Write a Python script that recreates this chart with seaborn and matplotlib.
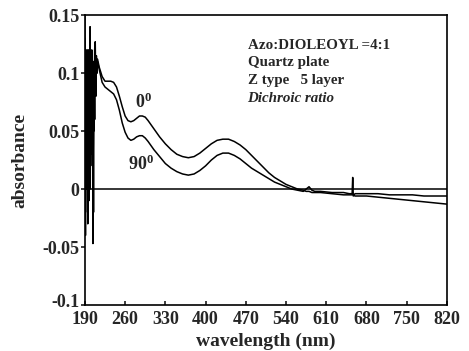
import pandas as pd
import matplotlib
matplotlib.use("Agg")
import matplotlib.pyplot as plt
import matplotlib.transforms as mtransforms
import seaborn as sns

# ------------------------------------------------------------
# data (absorbance vs wavelength)
# ------------------------------------------------------------
wl_noise = [190, 191, 192, 193, 194, 195, 196, 197, 198, 199, 200,
            201, 202, 203, 204, 205, 206, 207, 208, 209, 210, 211, 212]
wl_main = [215, 220, 225, 230, 235, 240, 245, 250, 255, 260, 265, 270,
           275, 280, 285, 290, 295, 300, 310, 320, 330, 340, 350, 360,
           370, 380, 390, 400, 410, 420, 430, 440, 450, 460, 470, 480,
           490, 500, 510, 520, 530, 540, 550, 560, 570, 575, 580, 585,
           590, 600, 620, 640, 650, 655, 656, 657, 660, 680, 700, 720,
           740, 760, 780, 800, 820]

abs_0_noise = [0.15, -0.04, 0.12, 0.00, 0.11, 0.01, 0.12, -0.01, 0.10,
               0.14, 0.02, 0.11, 0.03, 0.10, -0.047, 0.11, 0.05, 0.12,
               0.127, 0.09, 0.115, 0.10, 0.112]
abs_0_main = [0.105, 0.097, 0.093, 0.093, 0.093, 0.092, 0.088, 0.080,
              0.071, 0.063, 0.059, 0.058, 0.059, 0.061, 0.063, 0.063,
              0.062, 0.059, 0.052, 0.045, 0.039, 0.034, 0.030, 0.028,
              0.027, 0.028, 0.031, 0.035, 0.039, 0.042, 0.043, 0.043,
              0.041, 0.038, 0.034, 0.029, 0.024, 0.019, 0.014, 0.010,
              0.007, 0.004, 0.002, 0.000, -0.001, -0.002, -0.002, -0.003,
              -0.003, -0.003, -0.004, -0.005, -0.005, -0.005, -0.005,
              -0.005, -0.006, -0.006, -0.007, -0.008, -0.009, -0.010,
              -0.011, -0.012, -0.013]

abs_90_noise = [0.13, -0.02, 0.10, 0.02, 0.12, -0.03, 0.09, 0.03, 0.11,
                0.00, 0.10, 0.04, 0.12, 0.05, 0.09, -0.02, 0.10, 0.06,
                0.11, 0.08, 0.105, 0.10, 0.11]
abs_90_main = [0.103, 0.092, 0.088, 0.086, 0.084, 0.082, 0.077, 0.068,
               0.057, 0.049, 0.044, 0.042, 0.043, 0.045, 0.046, 0.046,
               0.044, 0.041, 0.034, 0.028, 0.022, 0.018, 0.015, 0.013,
               0.012, 0.013, 0.016, 0.020, 0.025, 0.029, 0.031, 0.031,
               0.029, 0.026, 0.022, 0.018, 0.015, 0.012, 0.009, 0.006,
               0.004, 0.002, 0.000, -0.001, -0.002, 0.000, 0.002, -0.001,
               -0.002, -0.002, -0.003, -0.003, -0.004, -0.004, 0.010,
               -0.006, -0.004, -0.004, -0.004, -0.005, -0.005, -0.005,
               -0.006, -0.006, -0.006]

x_ticks = [190, 260, 330, 400, 470, 540, 610, 680, 750, 820]
y_ticks = [-0.1, -0.05, 0, 0.05, 0.1, 0.15]
y_tick_labels = ["-0.1", "-0.05", "0", "0.05", "0.1", "0.15"]
info_lines = ["Azo:DIOLEOYL =4:1", "Quartz plate", "Z type   5 layer"]

# ------------------------------------------------------------
# style
# ------------------------------------------------------------
sns.set_theme(style="ticks")
plt.rcParams.update({
    "font.family": ["Liberation Serif", "DejaVu Serif"],
    "font.weight": "bold",
    "mathtext.fontset": "custom",
    "mathtext.rm": "Liberation Serif:bold",
    "mathtext.default": "rm",
    "axes.linewidth": 1.2,
})

df = pd.concat([
    pd.DataFrame({"wavelength": wl_noise + wl_main,
                  "absorbance": abs_0_noise + abs_0_main, "angle": "0"}),
    pd.DataFrame({"wavelength": wl_noise + wl_main,
                  "absorbance": abs_90_noise + abs_90_main, "angle": "90"}),
])

fig = plt.figure(figsize=(4.69, 3.51), dpi=100)
ax = fig.add_axes([0.181, 0.131, 0.772, 0.826])

sns.lineplot(data=df, x="wavelength", y="absorbance", hue="angle",
             palette=["black", "black"], estimator=None, linewidth=1.1,
             legend=False, ax=ax)
ax.axhline(0, color="black", linewidth=1.1)

ax.set_xlim(190, 820)
ax.set_ylim(-0.1, 0.15)
ax.set_xticks(x_ticks)
ax.set_yticks(y_ticks)
ax.set_yticklabels(y_tick_labels)
ax.tick_params(axis="x", direction="in", length=3, labelsize=13, pad=4)
ax.tick_params(axis="y", direction="out", length=3, labelsize=13, pad=1)
for sp in ax.spines.values():
    sp.set_visible(True)
    sp.set_color("black")

# nudge the bottom y label up a little so it clears "190"
lowest = ax.get_yticklabels()[0]
lowest.set_transform(lowest.get_transform() +
                     mtransforms.ScaledTranslation(0, 3 / 72, fig.dpi_scale_trans))

ax.set_xlabel("wavelength (nm)", fontsize=14, fontweight="bold", labelpad=4)
ax.set_ylabel("absorbance", fontsize=14, fontweight="bold", labelpad=10)

# curve labels
ax.text(278, 0.075, "0$^{0}$", fontsize=13, ha="left", va="center")
ax.text(265, 0.021, "90$^{0}$", fontsize=13, ha="left", va="center")

# sample description block
for i, line in enumerate(info_lines):
    ax.text(473, 0.124 - i * 0.0152, line, fontsize=10.8, ha="left",
            va="center")
ax.text(473, 0.124 - 3 * 0.0152, "Dichroic ratio", fontsize=10.8,
        ha="left", va="center", style="italic")

fig.savefig("out.png", dpi=100)
